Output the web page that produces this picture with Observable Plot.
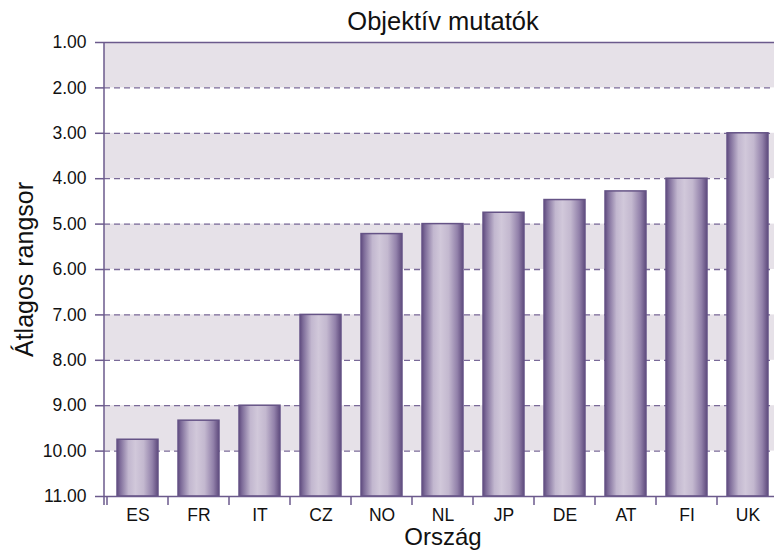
<!DOCTYPE html>
<html><head><meta charset="utf-8">
<script src="https://cdn.jsdelivr.net/npm/d3@7"></script>
<script src="https://cdn.jsdelivr.net/npm/@observablehq/plot@0.6"></script>
<style>html,body{margin:0;padding:0;overflow:hidden;background:#fff;}</style>
</head><body><div id="chart"></div>
<script>
const countries = ["ES","FR","IT","CZ","NO","NL","JP","DE","AT","FI","UK"];
const ranks = [9.75, 9.33, 9.0, 7.0, 5.22, 5.0, 4.75, 4.47, 4.28, 4.0, 3.0];
const yTicks = [1,2,3,4,5,6,7,8,9,10,11];
const gridLines = [2,3,4,5,6,7,8,9,10];
const bandStart = [1,3,5,7,9];
const bandEnd = [2,4,6,8,10];
const baseline = 11;
const titleText = "Objektív mutatók";
const yLabel = "Átlagos rangsor";
const xLabel = "Ország";

const data = countries.map((c, i) => ({country: c, rank: ranks[i]}));
const bands = bandStart.map((s, i) => ({y1: s, y2: bandEnd[i]}));
const purple = "#6b5a8c";
const font = "'Liberation Sans', Arial, sans-serif";

const gradStops = [
  [0, "#5f4b7d"], [0.07, "#7c6a98"], [0.28, "#c2b7cf"], [0.45, "#d1c8da"],
  [0.65, "#c3b8cf"], [0.86, "#9281aa"], [1, "#5f4b7d"]
];

const defsMark = () => {
  const g = d3.create("svg:defs");
  const lg = g.append("linearGradient").attr("id", "barGrad")
    .attr("x1", 0).attr("x2", 1).attr("y1", 0).attr("y2", 0);
  gradStops.forEach(([o, c]) => lg.append("stop").attr("offset", o).attr("stop-color", c));
  return g.node();
};

const frameLines = (index, scales, values, dims) => {
  const x = scales.x;
  const bw = typeof x.bandwidth === "function" ? x.bandwidth() : (x.bandwidth ?? 0);
  const step = x(countries[1]) - x(countries[0]);
  const pad = (step - bw) / 2;
  const yb = dims.height - dims.marginBottom;
  const g = d3.create("svg:g").attr("stroke", purple).attr("stroke-width", 1.5).attr("fill", "none");
  const bounds = countries.map(c => x(c) - pad);
  bounds.push(x(countries[countries.length - 1]) + bw + pad);
  bounds.forEach(b => g.append("line").attr("x1", b).attr("x2", b).attr("y1", yb).attr("y2", yb + 9));
  g.append("line").attr("x1", dims.marginLeft).attr("x2", dims.marginLeft)
    .attr("y1", dims.marginTop).attr("y2", yb + 9);
  return g.node();
};

const chart = Plot.plot({
  width: 782,
  height: 550,
  marginLeft: 104,
  marginRight: 1,
  marginTop: 42,
  marginBottom: 54,
  style: {fontFamily: font, background: "#fff", color: "#111", maxWidth: "none"},
  x: {domain: countries, paddingInner: 0.333, paddingOuter: 0.1667, label: null},
  y: {domain: [1, 11], reverse: true, label: null},
  marks: [
    defsMark,
    Plot.rect(bands, {y1: "y1", y2: "y2", fill: "#e6e1e8"}),
    Plot.ruleY(gridLines, {stroke: "#7a6a98", strokeWidth: 1.3, strokeDasharray: "6,4"}),
    Plot.barY(data, {x: "country", y1: baseline, y2: "rank", fill: "url(#barGrad)", stroke: "#655386", strokeWidth: 1.5}),
    Plot.ruleY([1, 11], {stroke: purple, strokeWidth: 1.5}),
    Plot.axisY(yTicks, {tickSize: 9, tickPadding: 9, tickFormat: d3.format(".2f"), stroke: purple, strokeWidth: 1.5,
      fill: "#111", fontSize: 17.5, label: null}),
    Plot.axisX({tickSize: 0, tickPadding: 12, fontSize: 17.5, fill: "#111", label: null}),
    frameLines,
    Plot.text([titleText], {frameAnchor: "top", lineAnchor: "middle", dy: -21, fontSize: 25.5, fill: "#111"}),
    Plot.text([yLabel], {frameAnchor: "left", textAnchor: "middle", lineAnchor: "middle", rotate: -90, dx: -80, fontSize: 25, fill: "#111"}),
    Plot.text([xLabel], {frameAnchor: "bottom", lineAnchor: "middle", dy: 41, fontSize: 24, fill: "#111"})
  ]
});
document.getElementById("chart").append(chart);
</script></body></html>
